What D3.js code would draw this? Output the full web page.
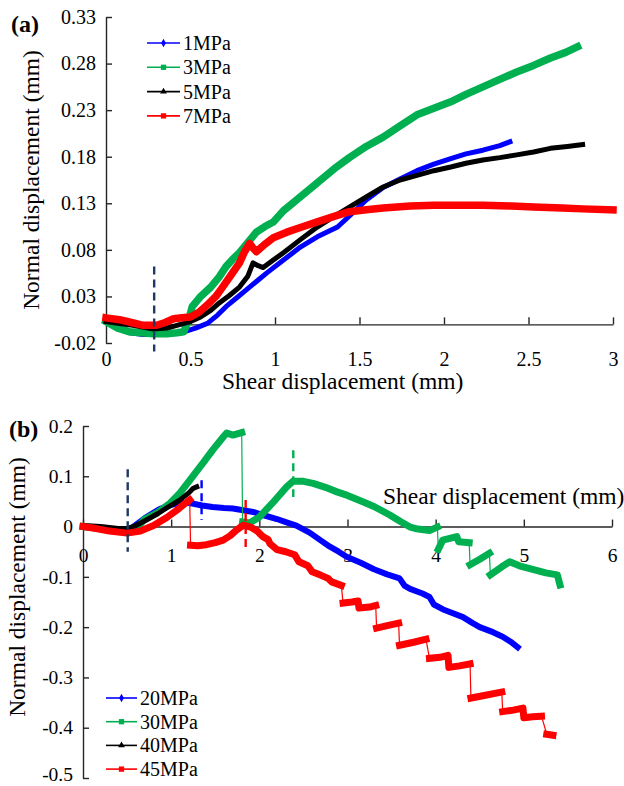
<!DOCTYPE html>
<html><head><meta charset="utf-8">
<script src="https://cdn.jsdelivr.net/npm/d3@7"></script>
<style>
html,body{margin:0;padding:0;background:#fff;}
svg{display:block;font-family:"Liberation Serif","Times New Roman",serif;}
</style></head><body>
<svg id="chart" width="624" height="786"></svg>
<script>
// ---------- Panel (a): low normal stress ----------
const labelsA = ["1MPa", "3MPa", "5MPa", "7MPa"];
const shearA1 = [0,0.08,0.14,0.22,0.3,0.38,0.46,0.53,0.6,0.66,0.71,0.77,0.83,0.89,0.95,1.05,1.15,1.25,1.37,1.45,1.54,1.64,1.74,1.84,1.94,2.04,2.13,2.23,2.33,2.39];
const normA1 = [0.002,-0.004,-0.009,-0.011,-0.011,-0.010,-0.008,-0.004,0.001,0.010,0.019,0.028,0.037,0.046,0.055,0.069,0.083,0.094,0.1045,0.118,0.1335,0.147,0.156,0.165,0.172,0.178,0.183,0.187,0.192,0.196];
const shearA3 = [0,0.07,0.14,0.21,0.28,0.36,0.42,0.46,0.49,0.51,0.56,0.62,0.67,0.71,0.75,0.79,0.84,0.89,0.94,0.99,1.05,1.13,1.25,1.35,1.44,1.54,1.64,1.74,1.84,1.94,2.04,2.13,2.23,2.33,2.43,2.53,2.63,2.72,2.79];
const normA3 = [0.003,-0.004,-0.008,-0.009,-0.010,-0.010,-0.009,-0.008,0.005,0.019,0.030,0.040,0.051,0.062,0.070,0.077,0.088,0.099,0.105,0.110,0.122,0.134,0.152,0.167,0.179,0.191,0.201,0.213,0.225,0.232,0.239,0.247,0.255,0.263,0.271,0.278,0.286,0.292,0.298];
const shearA5 = [0,0.08,0.16,0.28,0.36,0.42,0.5,0.56,0.62,0.67,0.73,0.79,0.84,0.87,0.9,0.93,0.99,1.05,1.15,1.25,1.35,1.44,1.54,1.64,1.74,1.84,1.94,2.04,2.13,2.23,2.33,2.43,2.53,2.63,2.73,2.82];
const normA5 = [0.003,0.001,-0.001,-0.005,-0.004,-0.001,0.003,0.008,0.015,0.023,0.031,0.040,0.052,0.066,0.063,0.061,0.069,0.077,0.091,0.1045,0.116,0.126,0.137,0.1475,0.155,0.160,0.165,0.169,0.173,0.1765,0.179,0.182,0.185,0.189,0.191,0.193];
const shearA7 = [0,0.08,0.15,0.22,0.3,0.35,0.4,0.45,0.5,0.55,0.6,0.65,0.69,0.74,0.79,0.82,0.85,0.87,0.89,0.94,0.99,1.07,1.15,1.25,1.35,1.44,1.54,1.64,1.8,1.94,2.1,2.23,2.4,2.53,2.7,2.82,3.0];
const normA7 = [0.007,0.005,0.002,-0.001,-0.001,0.002,0.006,0.007,0.008,0.013,0.021,0.030,0.040,0.053,0.066,0.078,0.087,0.082,0.078,0.086,0.093,0.099,0.104,0.110,0.116,0.121,0.123,0.125,0.127,0.128,0.128,0.128,0.127,0.126,0.125,0.124,0.123];
const ticksXA = [0,0.5,1,1.5,2,2.5,3];
const ticksYA = [-0.02,0.03,0.08,0.13,0.18,0.23,0.28,0.33];
// dilation-onset marker (shear, top, bottom)
const markA = [{key:"onset", x:0.285, top:0.062, bottom:-0.029}];

// ---------- Panel (b): high normal stress ----------
const labelsB = ["20MPa", "30MPa", "40MPa", "45MPa"];
const shearB20 = [0,0.3,0.5,0.61,0.72,0.87,0.99,1.1,1.21,1.35,1.47,1.6,1.7,1.8,1.93,2.04,2.2,2.3,2.42,2.57,2.7,2.8,2.9,2.99,3.15,3.3,3.45,3.59,3.65,3.71,3.85,3.93,3.98,4.1,4.31,4.42,4.5,4.65,4.76,4.85,4.93];
const normB20 = [0,-0.006,-0.010,0.005,0.019,0.035,0.043,0.047,0.047,0.042,0.039,0.037,0.036,0.033,0.029,0.023,0.015,0.009,0.002,-0.012,-0.028,-0.040,-0.050,-0.060,-0.072,-0.085,-0.095,-0.103,-0.118,-0.124,-0.133,-0.140,-0.155,-0.166,-0.180,-0.192,-0.200,-0.210,-0.219,-0.229,-0.240];
const shearB30 = [0,0.3,0.5,0.6,0.7,0.84,0.99,1.1,1.21,1.36,1.47,1.59,1.63,1.7,1.8,1.81,1.89,2.0,2.15,2.31,2.38,2.5,2.61,2.75,2.88,3.0,3.18,3.3,3.48,3.6,3.71,3.8,3.93,4.02,4.03,4.08,4.24,4.26,4.38,4.39,4.5,4.61,4.62,4.75,4.84,4.95,5.1,5.25,5.38,5.41];
const normB30 = [0,-0.006,-0.010,-0.005,0.015,0.027,0.047,0.067,0.092,0.126,0.152,0.178,0.186,0.182,0.187,0.009,0.007,0.019,0.047,0.079,0.090,0.090,0.086,0.078,0.069,0.062,0.049,0.040,0.023,0.010,-0.001,-0.005,-0.008,-0.001,-0.045,-0.027,-0.020,-0.030,-0.032,-0.076,-0.065,-0.053,-0.096,-0.080,-0.070,-0.078,-0.085,-0.092,-0.096,-0.116];
const shearB40 = [0,0.2,0.4,0.5,0.6,0.72,0.85,0.95,1.1,1.2,1.25,1.29];
const normB40 = [0.002,0,-0.004,-0.004,0.002,0.013,0.026,0.037,0.053,0.067,0.076,0.079];
const shearB45 = [0,0.15,0.3,0.5,0.65,0.8,0.95,1.06,1.15,1.21,1.22,1.3,1.4,1.5,1.59,1.67,1.74,1.82,1.9,1.97,2.04,2.1,2.12,2.2,2.3,2.4,2.45,2.55,2.6,2.7,2.78,2.82,2.93,2.95,3.05,3.12,3.13,3.25,3.32,3.33,3.45,3.58,3.59,3.75,3.89,3.93,4.05,4.14,4.15,4.27,4.39,4.4,4.55,4.75,4.76,4.88,4.99,5.0,5.1,5.2,5.26,5.33];
const normB45 = [0,-0.004,-0.009,-0.013,-0.009,0.002,0.018,0.032,0.045,0.053,-0.037,-0.038,-0.036,-0.032,-0.027,-0.018,-0.007,0.003,-0.001,-0.008,-0.020,-0.026,-0.034,-0.046,-0.050,-0.056,-0.070,-0.078,-0.090,-0.097,-0.103,-0.110,-0.117,-0.152,-0.150,-0.148,-0.162,-0.160,-0.157,-0.202,-0.197,-0.192,-0.236,-0.230,-0.224,-0.262,-0.260,-0.256,-0.280,-0.277,-0.273,-0.341,-0.336,-0.329,-0.368,-0.365,-0.361,-0.380,-0.378,-0.377,-0.413,-0.415];
const ticksXB = [0,1,2,3,4,5,6];
const ticksYB = [-0.5,-0.4,-0.3,-0.2,-0.1,0,0.1,0.2];
const markB = [
  {key:"onset", x:0.507, top:0.114, bottom:-0.050},
  {key:"s20", x:1.345, top:0.092, bottom:0.013},
  {key:"s30", x:2.385, top:0.152, bottom:0.059},
  {key:"s45", x:1.845, top:0.053, bottom:-0.043}
];

// ---------- styling ----------
const FONT = "'Liberation Serif', 'Times New Roman', Tinos, 'DejaVu Serif', serif";
const colors = {s1:"#0000ff", s3:"#00b050", s5:"#000000", s7:"#ff0000",
                s20:"#0000ff", s30:"#00b050", s40:"#000000", s45:"#ff0000", onset:"#1f3864"};
const symbols = [d3.symbolDiamond, d3.symbolSquare, d3.symbolTriangle, d3.symbolSquare];
const widthsA = [5, 7.5, 5, 7.5];
const widthsB = [6, 7, 5, 7];

const svg = d3.select("#chart");

function zip(xs, ys) { return xs.map((x, i) => ({x, y: ys[i]})); }

// split a series into continuous runs, leaving abrupt drops as thin connectors
function runs(pts, splitJumps) {
  if (!splitJumps) return [pts];
  const out = [[pts[0]]];
  for (let i = 1; i < pts.length; i++) {
    const dx = pts[i].x - pts[i-1].x, dy = pts[i].y - pts[i-1].y;
    if (Math.abs(dy) > 0.03 && Math.abs(dy / dx) > 0.35) out.push([]);
    out[out.length - 1].push(pts[i]);
  }
  return out;
}

function drawPanel(cfg) {
  const g = svg.append("g");
  const x = cfg.x, y = cfg.y;

  // y axis (ticks inside)
  const ay = g.append("g").attr("transform", `translate(${x.range()[0]},0)`)
    .call(d3.axisLeft(y).tickValues(cfg.ticksY).tickFormat(cfg.fmtY)
      .tickSizeInner(-6).tickSizeOuter(0).tickPadding(10));
  // x axis at zero, labels pushed below the plot
  const ax = g.append("g").attr("transform", `translate(0,${y(0)})`)
    .call(d3.axisBottom(x).tickValues(cfg.ticksX).tickFormat(d => String(d))
      .tickSizeInner(-7).tickSizeOuter(0).tickPadding(cfg.xPad));
  [ay, ax].forEach(a => {
    a.attr("font-family", null).attr("font-size", null);
    a.selectAll("text").style("font-family", FONT).style("font-size", cfg.tickFont + "px").attr("fill", "#000");
    a.selectAll("path,line").attr("stroke", "#262626").attr("stroke-width", 1.4);
  });
  // keep the lowest y label inside the frame
  ay.selectAll(".tick text").filter(d => d === cfg.ticksY[0]).attr("dy", cfg.lowDy);

  // series
  cfg.series.forEach((s, i) => {
    const pts = zip(s.xs, s.ys);
    const line = d3.line().x(d => x(d.x)).y(d => y(d.y));
    g.append("path").attr("d", line(pts)).attr("fill", "none")
      .attr("stroke", colors[s.key]).attr("stroke-width", 1.2);
    runs(pts, cfg.splitJumps).forEach(r => {
      if (r.length < 2) return;
      g.append("path").attr("d", line(r)).attr("fill", "none")
        .attr("stroke", colors[s.key]).attr("stroke-width", cfg.widths[i])
        .attr("stroke-linejoin", "round").attr("stroke-linecap", "square");
    });
  });

  // dashed marker lines
  cfg.marks.forEach(m => {
    g.append("line").attr("x1", x(m.x)).attr("x2", x(m.x))
      .attr("y1", y(m.top)).attr("y2", y(m.bottom))
      .attr("stroke", colors[m.key]).attr("stroke-width", 2.4)
      .attr("stroke-dasharray", "8,5");
  });

  const txt = (sel, size) => sel.style("font-family", FONT).style("font-size", size + "px").attr("fill", "#000");

  // axis titles
  txt(g.append("text").attr("x", cfg.xTitle[0]).attr("y", cfg.xTitle[1]), 23.5)
    .text("Shear displacement (mm)");
  txt(g.append("text")
    .attr("transform", `translate(${cfg.yTitle[0]},${cfg.yTitle[1]}) rotate(-90)`)
    .attr("text-anchor", "middle"), 23.5)
    .text("Normal displacement (mm)");
  txt(g.append("text").attr("x", cfg.tag[0]).attr("y", cfg.tag[1]), 24)
    .style("font-weight", "bold").text(cfg.tagText);

  // legend
  const lg = g.append("g");
  cfg.series.forEach((s, i) => {
    const ly = cfg.legend.y0 + i * cfg.legend.dy;
    lg.append("line").attr("x1", cfg.legend.x0).attr("x2", cfg.legend.x1)
      .attr("y1", ly).attr("y2", ly).attr("stroke", colors[s.key]).attr("stroke-width", 1.6);
    lg.append("path").attr("d", d3.symbol(symbols[i], i === 1 || i === 3 ? 28 : 20)())
      .attr("transform", `translate(${(cfg.legend.x0 + cfg.legend.x1) / 2},${ly})`)
      .attr("fill", colors[s.key]);
    txt(lg.append("text").attr("x", cfg.legend.x1 + 3).attr("y", ly + 7), 20)
      .text(s.label);
  });
}

drawPanel({
  x: d3.scaleLinear().domain([0, 3]).range([106, 613]),
  y: d3.scaleLinear().domain([-0.02, 0.33]).range([343, 17]),
  ticksX: ticksXA, ticksY: ticksYA, fmtY: d => d.toFixed(2), xPad: 27, tickFont: 20, lowDy: "0.32em",
  series: [
    {key:"s1", label:labelsA[0], xs:shearA1, ys:normA1},
    {key:"s3", label:labelsA[1], xs:shearA3, ys:normA3},
    {key:"s5", label:labelsA[2], xs:shearA5, ys:normA5},
    {key:"s7", label:labelsA[3], xs:shearA7, ys:normA7}
  ],
  widths: widthsA, splitJumps: false, marks: markA,
  xTitle: [222, 389], yTitle: [39, 180], tag: [11, 32], tagText: "(a)",
  legend: {x0:147, x1:180, y0:43, dy:24.3}
});

drawPanel({
  x: d3.scaleLinear().domain([0, 6]).range([83, 612]),
  y: d3.scaleLinear().domain([-0.5, 0.2]).range([778, 426]),
  ticksX: ticksXB, ticksY: ticksYB, fmtY: d => String(d), xPad: 22, tickFont: 19.5, lowDy: "0.12em",
  series: [
    {key:"s20", label:labelsB[0], xs:shearB20, ys:normB20},
    {key:"s30", label:labelsB[1], xs:shearB30, ys:normB30},
    {key:"s40", label:labelsB[2], xs:shearB40, ys:normB40},
    {key:"s45", label:labelsB[3], xs:shearB45, ys:normB45}
  ],
  widths: widthsB, splitJumps: true, marks: markB,
  xTitle: [383, 504], yTitle: [25, 587], tag: [9, 437], tagText: "(b)",
  legend: {x0:106, x1:137, y0:698, dy:23.7}
});
</script></body></html>
